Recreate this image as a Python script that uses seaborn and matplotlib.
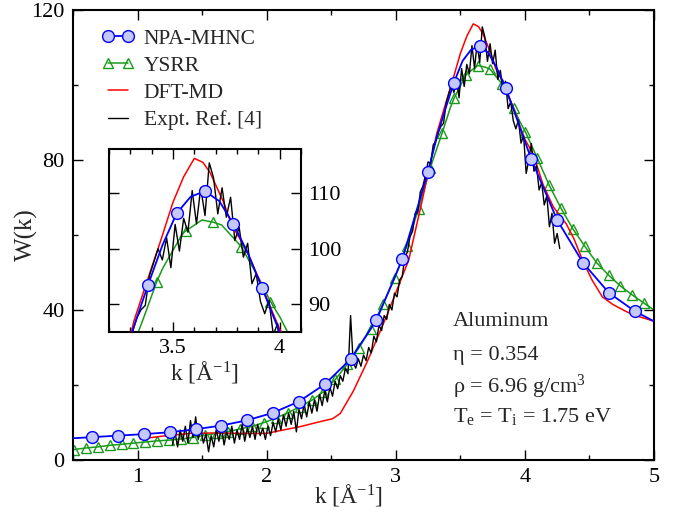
import numpy as np
import pandas as pd
import matplotlib
matplotlib.use("Agg")
import matplotlib.pyplot as plt
from matplotlib.ticker import MultipleLocator, FixedLocator
import seaborn as sns

# ---------------- data ----------------
# NPA-MHNC
npa_k = [0.5, 0.65, 0.85, 1.05, 1.25, 1.45, 1.65, 1.85, 2.05, 2.25, 2.45, 2.65, 2.85,
         3.05, 3.25, 3.317, 3.383, 3.45, 3.517, 3.583, 3.65, 3.717, 3.783, 3.85, 3.917,
         3.983, 4.05, 4.25, 4.45, 4.65, 4.85, 5.0]
npa_w = [5.8, 6.1, 6.5, 6.9, 7.4, 8.2, 9.2, 10.6, 12.6, 15.6, 20.2, 26.9, 37.3,
         53.5, 76.9, 86.0, 93.5, 100.6, 106.4, 109.4, 110.4, 108.6, 104.5, 99.3, 93.0,
         86.6, 80.2, 64.0, 52.6, 44.6, 39.7, 37.0]
npa_main_marks = [0.65, 0.85, 1.05, 1.25, 1.45, 1.65, 1.85, 2.05, 2.25, 2.45, 2.65, 2.85,
                  3.05, 3.25, 3.45, 3.65, 3.85, 4.05, 4.25, 4.45, 4.65, 4.85]
npa_inset_marks = [3.383, 3.517, 3.65, 3.783, 3.917]

# YSRR
ysrr_k = [0.508, 0.600, 0.692, 0.784, 0.876, 0.968, 1.060, 1.152, 1.244, 1.336, 1.428,
          1.520, 1.612, 1.704, 1.796, 1.888, 1.980, 2.072, 2.164, 2.256, 2.348, 2.440,
          2.532, 2.624, 2.716, 2.808, 2.900, 2.992, 3.084, 3.176, 3.268, 3.360, 3.424,
          3.452, 3.544, 3.559, 3.636, 3.688, 3.728, 3.820, 3.912, 3.957, 4.004, 4.096,
          4.188, 4.280, 4.372, 4.464, 4.556, 4.648, 4.740, 4.832, 4.924, 5.0]
ysrr_w = [2.8, 3.2, 3.5, 3.9, 4.2, 4.5, 4.8, 5.1, 5.3, 5.6, 6.0,
          6.6, 7.1, 7.6, 8.3, 9.0, 10.0, 11.2, 12.6, 14.2, 15.9, 18.2,
          21.5, 25.5, 30.0, 35.0, 41.5, 48.5, 57.0, 67.0, 78.0, 87.3, 94.1,
          96.5, 102.7, 103.2, 105.2, 104.8, 104.3, 100.4, 94.0, 90.5, 87.5, 80.5,
          73.3, 67.1, 61.6, 57.0, 52.6, 49.3, 46.4, 44.0, 41.8, 40.0]
ysrr_main_marks = [0.508, 0.600, 0.692, 0.784, 0.876, 0.968, 1.060, 1.152, 1.244, 1.336,
                   1.428, 1.520, 1.612, 1.704, 1.796, 1.888, 1.980, 2.072, 2.164, 2.256,
                   2.348, 2.440, 2.532, 2.624, 2.716, 2.808, 2.900, 2.992, 3.084, 3.176,
                   3.268, 3.360, 3.452, 3.544, 3.636, 3.728, 3.820, 3.912, 4.004, 4.096,
                   4.188, 4.280, 4.372, 4.464, 4.556, 4.648, 4.740, 4.832, 4.924]
ysrr_inset_marks = [3.424, 3.559, 3.688, 3.820, 3.957]

# DFT-MD
dft_k = [1.02, 1.2, 1.41, 1.6, 1.8, 2.0, 2.1, 2.26, 2.41, 2.51, 2.57, 2.67, 2.78, 2.93,
         3.0, 3.1, 3.2, 3.317, 3.39, 3.44, 3.5, 3.55, 3.6, 3.64, 3.673, 3.735, 3.774,
         3.844, 3.907, 3.963, 4.0, 4.066, 4.14, 4.22, 4.32, 4.38, 4.45, 4.52, 4.6,
         4.68, 4.79, 4.86, 5.0]
dft_w = [5.6, 6.4, 7.1, 7.2, 7.1, 7.1, 7.8, 8.9, 10.2, 11.0, 12.4, 18.3, 26.3, 38.5,
         44.6, 53.3, 68.5, 87.0, 95.5, 101.2, 108.4, 113.0, 116.3, 115.6, 113.8, 108.6, 104.4,
         99.8, 94.2, 88.9, 85.5, 81.5, 73.5, 67.5, 63.0, 59.0, 53.0, 48.0, 43.5,
         41.5, 39.5, 38.5, 37.0]

# Expt. Ref. [4]  (k = 1.27 ... 4.27, step 0.02)
expt_k0, expt_dk = 1.27, 0.02
expt_w = [4.0, 7.5, 3.5, 8.0, 5.0, 9.0, 4.5, 10.5, 6.0, 11.5,
          5.5, 8.5, 4.5, 7.0, 2.2, 6.5, 3.5, 8.0, 5.0, 9.0,
          4.0, 7.5, 5.5, 9.0, 4.5, 8.0, 5.5, 9.5, 5.0, 8.5,
          6.0, 9.0, 5.5, 9.5, 6.5, 8.5, 5.5, 9.0, 6.5, 10.0,
          7.5, 11.0, 8.0, 12.0, 9.0, 12.5, 9.5, 13.0, 7.5, 13.5,
          11.0, 15.0, 11.5, 15.5, 12.5, 16.0, 13.0, 17.5, 14.5, 18.5,
          15.5, 19.5, 17.0, 21.0, 19.0, 22.5, 21.0, 24.5, 23.0, 38.5,
          26.0, 24.5, 27.0, 25.0, 28.0, 26.5, 30.0, 28.5, 33.0, 31.5,
          36.0, 34.5, 38.5, 37.5, 41.5, 40.0, 44.5, 43.5, 48.0, 49.0,
          54.0, 55.5, 59.5, 61.0, 65.5, 66.0, 71.5, 73.0, 76.0, 79.5,
          79.0, 84.0, 85.0, 87.5, 89.0, 89.8, 95.2, 97.6, 100.0, 98.0,
          102.0, 96.6, 104.4, 99.6, 105.5, 103.0, 110.5, 104.5, 111.0, 106.0,
          115.5, 112.8, 106.3, 111.0, 105.7, 109.3, 101.5, 103.9, 98.5, 101.0,
          93.7, 95.5, 90.5, 88.3, 90.7, 84.5, 86.5, 76.4, 80.0, 84.4,
          77.0, 78.5, 72.0, 74.0, 68.0, 70.5, 62.2, 65.8, 57.8, 60.4,
          56.4]
expt_k = list(np.round(expt_k0 + expt_dk * np.arange(len(expt_w)), 3))

# ---------------- style ----------------
sns.set_theme(style="ticks")
plt.rcParams["font.family"] = ["Liberation Serif", "DejaVu Serif"]
plt.rcParams["mathtext.fontset"] = "custom"
plt.rcParams["mathtext.rm"] = "Liberation Serif"
plt.rcParams["mathtext.it"] = "Liberation Serif:italic"
plt.rcParams["axes.linewidth"] = 1.5
plt.rcParams["axes.edgecolor"] = "black"

FS_TICK = 16
FS_LAB = 17
FS_LEG = 15.5
FS_TXT = 16
BLUE = "#0000ff"
GREEN = "#1a9a1a"
RED = "#ff0000"

df_npa = pd.DataFrame({"k": npa_k, "W": npa_w})
df_ysrr = pd.DataFrame({"k": ysrr_k, "W": ysrr_w})
df_dft = pd.DataFrame({"k": dft_k, "W": dft_w})
df_expt = pd.DataFrame({"k": expt_k, "W": expt_w})


def idx(arr, marks):
    a = np.asarray(arr)
    return [int(np.argmin(np.abs(a - m))) for m in marks]


def draw(ax, npa_marks, ysrr_marks):
    sns.lineplot(data=df_ysrr, x="k", y="W", ax=ax, estimator=None, sort=False,
                 color=GREEN, lw=1.1, marker="^", markersize=7.5,
                 markerfacecolor="none", markeredgecolor=GREEN, markeredgewidth=1.0,
                 markevery=idx(ysrr_k, ysrr_marks), zorder=2, label="YSRR")
    sns.lineplot(data=df_dft, x="k", y="W", ax=ax, estimator=None, sort=False,
                 color=RED, lw=1.1, zorder=3, label="DFT-MD")
    sns.lineplot(data=df_expt, x="k", y="W", ax=ax, estimator=None, sort=False,
                 color="black", lw=1.0, zorder=4, label="Expt. Ref. [4]")
    sns.lineplot(data=df_npa, x="k", y="W", ax=ax, estimator=None, sort=False,
                 color=BLUE, lw=1.3, marker="o", markersize=8.5,
                 markerfacecolor="#c4c8fb", markeredgecolor=BLUE, markeredgewidth=1.0,
                 markevery=idx(npa_k, npa_marks), zorder=5, label="NPA-MHNC")


fig = plt.figure(figsize=(6.82, 5.19), dpi=100)
ax = fig.add_axes([73 / 682, 59 / 519, 581 / 682, 450 / 519])
draw(ax, npa_main_marks, ysrr_main_marks)

ax.set_xlim(0.5, 5)
ax.set_ylim(0, 120)
ax.xaxis.set_major_locator(FixedLocator([1, 2, 3, 4, 5]))
ax.xaxis.set_minor_locator(MultipleLocator(0.5))
ax.yaxis.set_major_locator(MultipleLocator(40))
ax.yaxis.set_minor_locator(MultipleLocator(20))
ax.tick_params(which="both", direction="in", top=True, right=True,
               labelsize=FS_TICK, colors="black")
ax.tick_params(which="major", length=7, width=1.0, pad=6)
ax.tick_params(which="minor", length=3.5, width=1.0)
ax.set_xlabel("k [Å$^{-1}$]", fontsize=FS_LAB)
ax.set_ylabel("W(k)", fontsize=FS_LAB + 1)
ax.xaxis.set_label_coords(0.475, -0.078)
ax.xaxis.label.set_va("center")
ax.yaxis.set_label_coords(-0.081, 0.5)
ax.yaxis.label.set_va("center")

handles, labels = ax.get_legend_handles_labels()
order = ["NPA-MHNC", "YSRR", "DFT-MD", "Expt. Ref. [4]"]
hmap = dict(zip(labels, handles))
ax.legend([hmap[o] for o in order], order, loc="upper left", bbox_to_anchor=(0.035, 0.978),
          frameon=False, fontsize=FS_LEG, numpoints=2, handlelength=1.5,
          handletextpad=0.45, labelspacing=0.33, borderaxespad=0.0)

txt = ["Aluminum", "η = 0.354", "ρ = 6.96 g/cm$^{3}$", "T$_{\\mathrm{e}}$ = T$_{\\mathrm{i}}$ = 1.75 eV"]
ys = [0.307, 0.232, 0.162, 0.096]
for t, y in zip(txt, ys):
    ax.text(0.654, y, t, transform=ax.transAxes, fontsize=FS_TXT, va="center", ha="left")

# ---------------- inset ----------------
axi = fig.add_axes([109 / 682, 187 / 519, 192 / 682, 183 / 519])
draw(axi, npa_inset_marks, ysrr_inset_marks)
if axi.get_legend() is not None:
    axi.get_legend().remove()
axi.set_xlim(3.2, 4.1)
axi.set_ylim(85, 118)
axi.xaxis.set_major_locator(FixedLocator([3.5, 4.0]))
axi.set_xticklabels(["3.5", "4"])
axi.xaxis.set_minor_locator(MultipleLocator(0.1))
axi.yaxis.set_major_locator(FixedLocator([90, 100, 110]))
axi.tick_params(which="both", direction="in", top=True, right=True, left=True,
                labelleft=False, labelright=True, labelsize=FS_TICK, colors="black")
axi.tick_params(which="major", length=7, width=1.0, pad=5)
axi.tick_params(which="minor", length=3.5, width=1.0)
axi.set_xlabel("k [Å$^{-1}$]", fontsize=FS_LAB, labelpad=1)
axi.set_ylabel("")

fig.savefig("out.png", dpi=100)
